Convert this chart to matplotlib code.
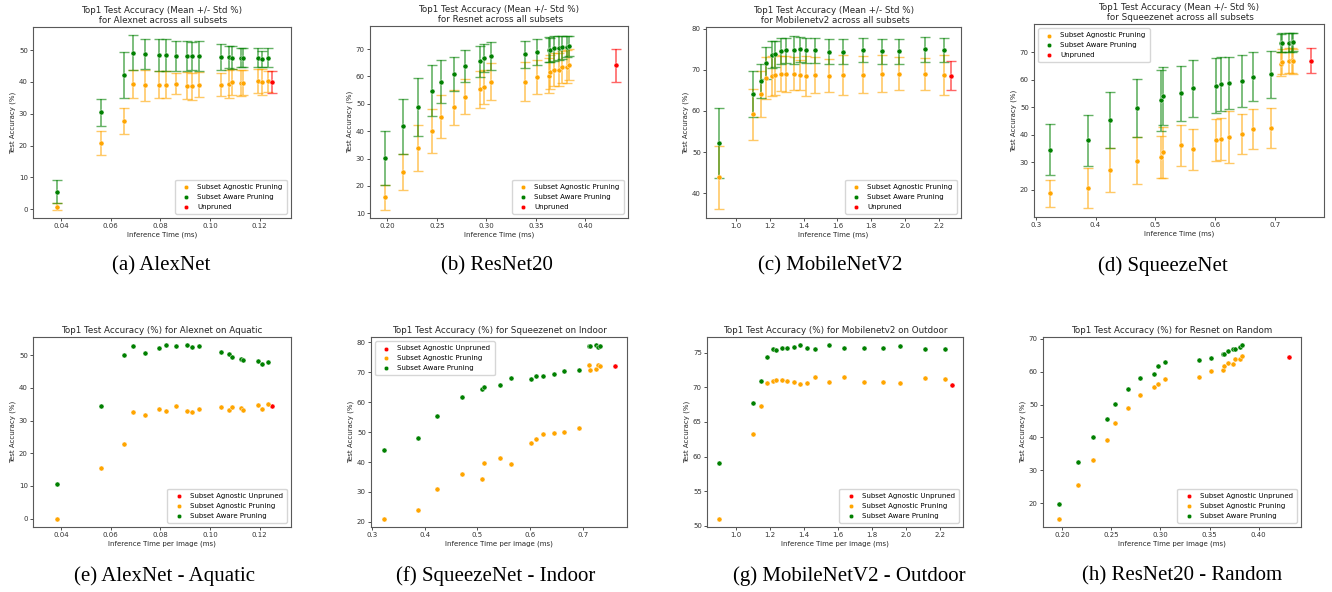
import matplotlib
matplotlib.use("Agg")
import matplotlib.pyplot as plt
import numpy as np

# ---------------- data ----------------
alex_time = [0.0383, 0.0560, 0.0655, 0.0692, 0.0739, 0.0794, 0.0825, 0.0863, 0.0907, 0.0926,
             0.0955, 0.1045, 0.1076, 0.1087, 0.1125, 0.1133, 0.1195, 0.1208, 0.1232]
alex_unpruned_time = 0.1251

resnet_time = [0.1973, 0.2163, 0.2313, 0.2452, 0.2541, 0.2673, 0.2789, 0.2932, 0.2980, 0.3048,
               0.3395, 0.3510, 0.3633, 0.3646, 0.3687, 0.3735, 0.3762, 0.3810, 0.3833]
resnet_unpruned_time = 0.4305

mobile_time = [0.898, 1.098, 1.148, 1.179, 1.215, 1.232, 1.268, 1.297, 1.343, 1.378,
               1.417, 1.467, 1.549, 1.634, 1.754, 1.864, 1.967, 2.116, 2.232]
mobile_unpruned_time = 2.272

squeeze_time = [0.324, 0.387, 0.424, 0.470, 0.509, 0.513, 0.543, 0.563, 0.601, 0.610,
                0.624, 0.645, 0.663, 0.693, 0.711, 0.713, 0.724, 0.729, 0.731]
squeeze_unpruned_time = 0.760

# (a) AlexNet across all subsets
alex_agn_mean = [0.8, 20.7, 27.8, 39.4, 38.9, 39.2, 39.1, 39.4, 38.8, 38.6,
                 39.2, 39.1, 39.4, 40.0, 39.7, 39.8, 40.4, 40.0, 40.2]
alex_agn_std = [1.0, 3.8, 4.1, 4.4, 4.8, 4.2, 4.2, 3.3, 4.3, 4.2,
                3.9, 3.6, 4.3, 4.0, 4.0, 4.0, 3.8, 4.0, 3.4]
alex_awr_mean = [5.5, 30.5, 42.2, 49.2, 48.8, 48.5, 48.5, 48.3, 48.2, 48.2,
                 48.1, 47.9, 47.8, 47.7, 47.6, 47.6, 47.6, 47.3, 47.6]
alex_awr_std = [3.5, 4.2, 7.2, 5.5, 4.8, 5.0, 5.0, 4.7, 4.7, 4.5,
                4.7, 4.0, 3.5, 3.5, 3.0, 3.0, 3.0, 2.5, 3.0]
alex_unp_mean, alex_unp_std = 40.0, 3.6

# (b) ResNet20 across all subsets
resnet_agn_mean = [15.8, 25.0, 33.9, 40.1, 45.3, 48.7, 52.5, 55.3, 56.1, 58.1,
                   58.1, 59.8, 60.2, 61.7, 62.4, 62.5, 63.3, 63.6, 64.3]
resnet_agn_std = [4.5, 6.6, 8.3, 8.0, 7.8, 6.3, 6.4, 6.7, 6.2, 6.8,
                  7.2, 6.3, 6.4, 6.2, 6.0, 6.0, 5.8, 5.9, 5.6]
resnet_awr_mean = [30.1, 41.8, 48.9, 54.8, 58.1, 61.0, 63.8, 65.5, 66.6, 67.4,
                   68.1, 68.9, 69.8, 69.6, 70.2, 70.4, 70.6, 70.9, 71.2]
resnet_awr_std = [9.8, 10.0, 10.6, 9.3, 7.8, 6.2, 5.8, 5.7, 5.1, 5.0,
                  4.9, 4.6, 4.5, 4.4, 4.4, 4.3, 4.2, 4.0, 3.6]
resnet_unp_mean, resnet_unp_std = 64.0, 5.9

# (c) MobileNetV2 across all subsets
mobile_agn_mean = [43.9, 59.2, 64.2, 68.1, 68.5, 68.7, 69.1, 68.9, 69.1, 68.7,
                   68.5, 68.8, 68.6, 68.7, 68.8, 69.1, 69.1, 69.0, 68.7]
mobile_agn_std = [7.7, 6.2, 5.6, 5.1, 4.8, 4.8, 4.3, 4.4, 4.0, 3.7,
                  4.8, 4.4, 4.1, 4.9, 4.5, 4.6, 4.0, 3.8, 4.8]
mobile_awr_mean = [52.2, 64.1, 67.3, 71.6, 73.7, 73.9, 74.5, 74.7, 74.7, 75.0,
                   74.7, 74.7, 74.4, 74.4, 74.8, 74.5, 74.5, 75.0, 74.8]
mobile_awr_std = [8.5, 5.6, 4.2, 3.9, 3.3, 3.1, 3.2, 3.0, 3.4, 3.0,
                  3.0, 3.0, 3.0, 3.1, 3.0, 3.0, 3.0, 3.0, 3.0]
mobile_unp_mean, mobile_unp_std = 68.6, 3.6

# (d) SqueezeNet across all subsets
squeeze_agn_mean = [18.6, 20.7, 27.3, 30.5, 32.0, 33.5, 36.1, 34.7, 38.0, 38.5,
                    39.1, 40.2, 41.9, 42.5, 65.7, 66.5, 66.8, 67.0, 66.6]
squeeze_agn_std = [4.8, 7.2, 8.0, 8.5, 7.6, 9.4, 7.5, 7.5, 7.5, 7.6,
                   9.3, 7.3, 7.3, 7.2, 4.4, 4.5, 4.5, 4.5, 4.5]
squeeze_awr_mean = [34.5, 37.9, 45.3, 49.8, 52.4, 54.0, 55.1, 56.8, 57.7, 58.5,
                    58.8, 59.4, 61.1, 61.9, 73.3, 73.4, 73.4, 73.5, 73.6]
squeeze_awr_std = [9.3, 9.3, 10.1, 10.5, 11.0, 10.4, 10.0, 10.4, 10.0, 9.8,
                   9.4, 9.4, 8.8, 8.6, 3.4, 3.4, 3.4, 3.3, 3.3]
squeeze_unp_mean, squeeze_unp_std = 66.9, 4.4

# (e) AlexNet - Aquatic
aquatic_agn = [0.0, 15.5, 23.0, 32.6, 31.6, 33.7, 32.9, 34.5, 32.9, 32.6,
               33.7, 34.2, 33.4, 34.3, 33.8, 33.2, 34.7, 33.6, 35.0]
aquatic_awr = [10.5, 34.6, 50.1, 52.7, 50.8, 52.2, 53.2, 52.7, 53.0, 52.4,
               52.8, 51.0, 50.3, 49.4, 48.9, 48.5, 48.2, 47.3, 47.8]
aquatic_unp = 34.4

# (f) SqueezeNet - Indoor
indoor_agn = [21.1, 23.9, 31.0, 36.0, 34.3, 39.8, 41.4, 39.5, 46.4, 47.6,
              49.5, 49.8, 50.1, 51.3, 72.5, 70.8, 71.2, 72.5, 72.1]
indoor_awr = [44.2, 48.1, 55.5, 61.8, 64.5, 65.2, 65.8, 68.1, 67.8, 68.9,
              68.7, 69.6, 70.3, 70.9, 78.8, 78.9, 79.2, 78.6, 78.9]
indoor_unp = 72.2

# (g) MobileNetV2 - Outdoor
outdoor_agn = [51.0, 63.2, 67.3, 70.7, 71.0, 71.1, 71.1, 71.0, 70.8, 70.5,
               70.6, 71.5, 70.8, 71.5, 70.8, 70.8, 70.6, 71.3, 71.2]
outdoor_awr = [59.0, 67.8, 71.0, 74.4, 75.6, 75.4, 75.7, 75.7, 75.8, 76.2,
               75.7, 75.6, 76.1, 75.7, 75.7, 75.7, 76.0, 75.5, 75.5]
outdoor_unp = 70.3

# (h) ResNet20 - Random
random_agn = [15.3, 25.5, 33.2, 39.3, 44.5, 48.9, 52.8, 55.2, 56.1, 57.8,
              58.4, 60.1, 60.4, 61.6, 62.6, 62.2, 63.8, 63.7, 64.8]
random_awr = [19.9, 32.4, 40.2, 45.6, 50.3, 54.6, 58.2, 59.4, 61.7, 62.9,
              63.5, 64.2, 65.3, 65.4, 66.4, 66.9, 66.9, 67.5, 68.2]
random_unp = 64.3

captions = ["(a) AlexNet", "(b) ResNet20", "(c) MobileNetV2", "(d) SqueezeNet",
            "(e) AlexNet - Aquatic", "(f) SqueezeNet - Indoor",
            "(g) MobileNetV2 - Outdoor", "(h) ResNet20 - Random"]

# ---------------- figure ----------------
W, H = 1332, 592
fig = plt.figure(figsize=(W / 100, H / 100), dpi=100)

TICK_FS = 5
LAB_FS = 5
TITLE_FS = 6.3
LEG_FS = 5
C_AGN, C_AWR, C_UNP = "orange", "green", "red"


def make_ax(l, t, r, b):
    ax = fig.add_axes([l / W, 1 - b / H, (r - l) / W, (b - t) / H])
    for s in ax.spines.values():
        s.set_linewidth(0.8)
        s.set_color("0.35")
    ax.tick_params(labelsize=TICK_FS, length=2.2, width=0.6, pad=1.5, colors="0.2")
    return ax


def style_legend(ax, loc):
    ax.legend(loc=loc, fontsize=LEG_FS, markerscale=0.9, handletextpad=0.6,
              borderpad=0.6, labelspacing=0.55, framealpha=0.8, edgecolor="0.8",
              borderaxespad=0.6)


def top_panel(ax, name, t, am, asd, wm, wsd, ut, um, usd, loc):
    ek = dict(fmt="none", capsize=3.3, elinewidth=1.2, capthick=1.0, alpha=0.6)
    ax.errorbar(t, am, yerr=asd, ecolor=C_AGN, **ek)
    ax.errorbar(t, wm, yerr=wsd, ecolor=C_AWR, **ek)
    ax.errorbar([ut], [um], yerr=[usd], ecolor=C_UNP, **ek)
    sk = dict(s=13, edgecolors="white", linewidths=0.3, zorder=3)
    ax.scatter(t, am, color=C_AGN, label="Subset Agnostic Pruning", **sk)
    ax.scatter(t, wm, color=C_AWR, label="Subset Aware Pruning", **sk)
    ax.scatter([ut], [um], color=C_UNP, label="Unpruned", **sk)
    ax.set_title("Top1 Test Accuracy (Mean +/- Std %)\n for " + name + " across all subsets",
                 fontsize=TITLE_FS, pad=3, color="0.15", linespacing=1.1)
    ax.set_xlabel("Inference Time (ms)", fontsize=LAB_FS, labelpad=1.5, color="0.15")
    ax.set_ylabel("Test Accuracy (%)", fontsize=LAB_FS, labelpad=2, color="0.15")
    style_legend(ax, loc)


def bottom_panel(ax, name, subset, t, agn, awr, ut, unp, loc):
    sk = dict(s=13, edgecolors="white", linewidths=0.3, zorder=3)
    ax.scatter([ut], [unp], color=C_UNP, label="Subset Agnostic Unpruned", **sk)
    ax.scatter(t, agn, color=C_AGN, label="Subset Agnostic Pruning", **sk)
    ax.scatter(t, awr, color=C_AWR, label="Subset Aware Pruning", **sk)
    ax.set_title("Top1 Test Accuracy (%) for " + name + " on " + subset,
                 fontsize=TITLE_FS, pad=3, color="0.15")
    ax.set_xlabel("Inference Time per image (ms)", fontsize=LAB_FS, labelpad=1.5, color="0.15")
    ax.set_ylabel("Test Accuracy (%)", fontsize=LAB_FS, labelpad=2, color="0.15")
    style_legend(ax, loc)


# (a)
ax = make_ax(33, 27, 291, 218)
top_panel(ax, "Alexnet", alex_time, alex_agn_mean, alex_agn_std, alex_awr_mean, alex_awr_std,
          alex_unpruned_time, alex_unp_mean, alex_unp_std, "lower right")
ax.set_xlim(0.0288, 0.1326); ax.set_ylim(-2.8, 57.3)
ax.set_xticks([0.04, 0.06, 0.08, 0.10, 0.12]); ax.set_yticks([0, 10, 20, 30, 40, 50])

# (b)
ax = make_ax(370, 26, 628, 218)
top_panel(ax, "Resnet", resnet_time, resnet_agn_mean, resnet_agn_std, resnet_awr_mean, resnet_awr_std,
          resnet_unpruned_time, resnet_unp_mean, resnet_unp_std, "lower right")
ax.set_xlim(0.1825, 0.443); ax.set_ylim(8.3, 78.4)
ax.set_xticks([0.20, 0.25, 0.30, 0.35, 0.40]); ax.set_yticks([10, 20, 30, 40, 50, 60, 70])

# (c)
ax = make_ax(706, 27, 961, 218)
top_panel(ax, "Mobilenetv2", mobile_time, mobile_agn_mean, mobile_agn_std, mobile_awr_mean, mobile_awr_std,
          mobile_unpruned_time, mobile_unp_mean, mobile_unp_std, "lower right")
ax.set_xlim(0.822, 2.332); ax.set_ylim(34.0, 80.4)
ax.set_xticks([1.0, 1.2, 1.4, 1.6, 1.8, 2.0, 2.2]); ax.set_yticks([40, 50, 60, 70, 80])

# (d)
ax = make_ax(1034, 24, 1324, 217)
top_panel(ax, "Squeezenet", squeeze_time, squeeze_agn_mean, squeeze_agn_std, squeeze_awr_mean, squeeze_awr_std,
          squeeze_unpruned_time, squeeze_unp_mean, squeeze_unp_std, "upper left")
ax.set_xlim(0.297, 0.7825); ax.set_ylim(10.05, 80.2)
ax.set_xticks([0.3, 0.4, 0.5, 0.6, 0.7]); ax.set_yticks([20, 30, 40, 50, 60, 70])

# (e)
ax = make_ax(33, 337, 291, 527)
bottom_panel(ax, "Alexnet", "Aquatic", alex_time, aquatic_agn, aquatic_awr,
             alex_unpruned_time, aquatic_unp, "lower right")
ax.set_xlim(0.0288, 0.1326); ax.set_ylim(-2.55, 55.6)
ax.set_xticks([0.04, 0.06, 0.08, 0.10, 0.12]); ax.set_yticks([0, 10, 20, 30, 40, 50])

# (f)
ax = make_ax(371, 337, 627, 527)
bottom_panel(ax, "Squeezenet", "Indoor", squeeze_time, indoor_agn, indoor_awr,
             squeeze_unpruned_time, indoor_unp, "upper left")
ax.set_xlim(0.2985, 0.783); ax.set_ylim(18.3, 81.8)
ax.set_xticks([0.3, 0.4, 0.5, 0.6, 0.7]); ax.set_yticks([20, 30, 40, 50, 60, 70, 80])

# (g)
ax = make_ax(707, 337, 963, 527)
bottom_panel(ax, "Mobilenetv2", "Outdoor", mobile_time, outdoor_agn, outdoor_awr,
             mobile_unpruned_time, outdoor_unp, "lower right")
ax.set_xlim(0.827, 2.338); ax.set_ylim(49.8, 77.3)
ax.set_xticks([1.0, 1.2, 1.4, 1.6, 1.8, 2.0, 2.2]); ax.set_yticks([50, 55, 60, 65, 70, 75])

# (h)
ax = make_ax(1043, 337, 1301, 527)
bottom_panel(ax, "Resnet", "Random", resnet_time, random_agn, random_awr,
             resnet_unpruned_time, random_unp, "lower right")
ax.set_xlim(0.1806, 0.443); ax.set_ylim(12.8, 70.5)
ax.set_xticks([0.20, 0.25, 0.30, 0.35, 0.40]); ax.set_yticks([20, 30, 40, 50, 60, 70])

# captions
cap_x = [161, 497, 830, 1163, 165, 496, 849, 1182]
cap_y = [266, 266, 266, 266, 576, 576, 576, 576]
for c, cx, cy in zip(captions, cap_x, cap_y):
    fig.text(cx / W, 1 - cy / H, c, ha="center", va="center", fontsize=15,
             family="Liberation Serif", color="black")

fig.savefig("out.png", dpi=100)
